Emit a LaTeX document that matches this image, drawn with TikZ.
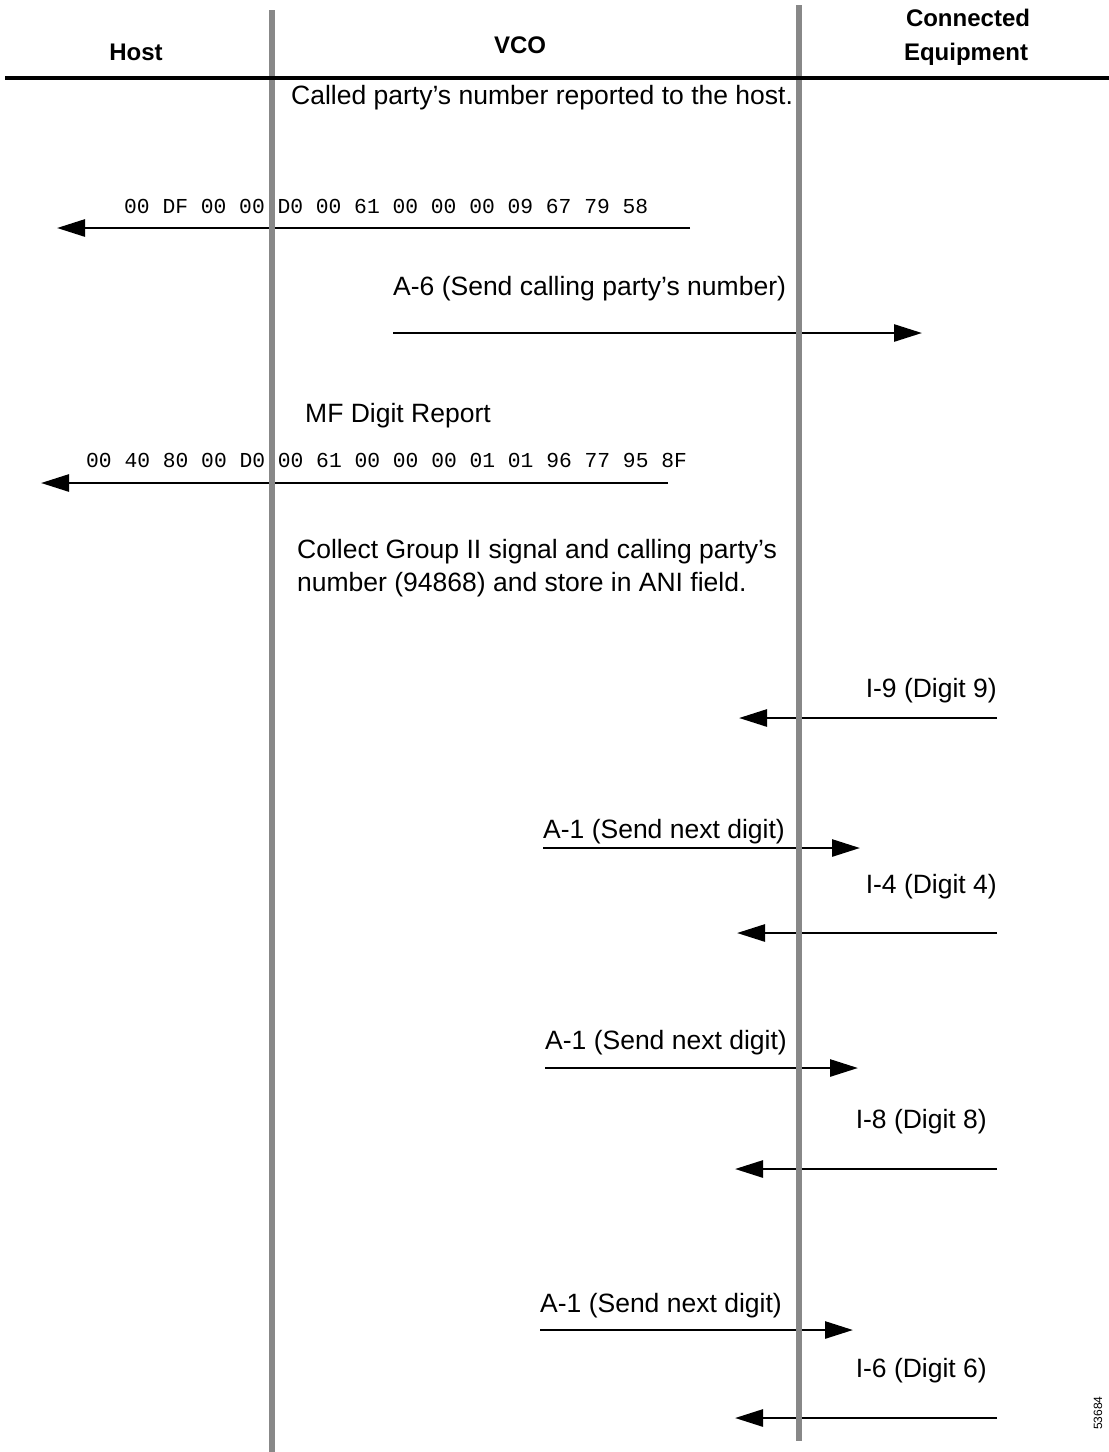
\documentclass[tikz,border=0pt]{standalone}
\usepackage{fontspec}
\setmainfont{Liberation Sans}
\setmonofont{Liberation Mono}
\usetikzlibrary{arrows.meta}
\definecolor{lifegray}{RGB}{136,136,136}
\begin{document}
\begin{tikzpicture}[x=1pt,y=-1pt,
  lifeline/.style={draw=lifegray,line width=6pt},
  msg/.style={draw=black,line width=2.7pt,-{Triangle[length=28pt,width=17pt]}},
  hdr/.style={font=\fontsize{24}{28}\selectfont\bfseries,inner sep=0pt},
  txt/.style={font=\fontsize{26.5}{33}\selectfont,inner sep=0pt},
  hex/.style={font=\fontsize{21.3}{24}\selectfont\ttfamily,inner sep=0pt}]
\useasboundingbox (0,0) rectangle (1109,1452);

% headers
\node[hdr,anchor=base] (host) at (136,60) {Host};
\node[hdr,anchor=base] (vco) at (520,53) {VCO};
\node[hdr,anchor=base] (conn) at (968,26) {Connected};
\node[hdr,anchor=base] (equip) at (966,60) {Equipment};

% texts
\node[txt,anchor=base west] (called) at (291,104) {Called party’s number reported to the host.};
\node[hex,anchor=base west] (hexa) at (124,213) {00 DF 00 00 D0 00 61 00 00 00 09 67 79 58};
\node[txt,anchor=base west] (a6) at (393,295) {A-6 (Send calling party’s number)};
\node[txt,anchor=base west] (mf) at (305,422) {MF Digit Report};
\node[hex,anchor=base west] (hexb) at (86,467) {00 40 80 00 D0 00 61 00 00 00 01 01 96 77 95 8F};
\node[txt,anchor=base west] (collect1) at (297,558) {Collect Group II signal and calling party’s};
\node[txt,anchor=base west] (collect2) at (297,591) {number (94868) and store in ANI field.};
\node[txt,anchor=base east] (i9) at (997,697) {I-9 (Digit 9)};
\node[txt,anchor=base west] (a1a) at (543,838) {A-1 (Send next digit)};
\node[txt,anchor=base east] (i4) at (997,893) {I-4 (Digit 4)};
\node[txt,anchor=base west] (a1b) at (545,1049) {A-1 (Send next digit)};
\node[txt,anchor=base east] (i8) at (987,1128) {I-8 (Digit 8)};
\node[txt,anchor=base west] (a1c) at (540,1312) {A-1 (Send next digit)};
\node[txt,anchor=base east] (i6) at (987,1377) {I-6 (Digit 6)};
\node[font=\fontsize{12}{14}\selectfont,rotate=90,inner sep=0pt] (fig) at (1098,1413) {53684};

% arrow endpoints
\coordinate (m1s) at (690,228);  \coordinate (m1e) at (57,228);
\coordinate (m2s) at (393,333);  \coordinate (m2e) at (922,333);
\coordinate (m3s) at (668,483);  \coordinate (m3e) at (41,483);
\coordinate (m4s) at (997,718);  \coordinate (m4e) at (739,718);
\coordinate (m5s) at (543,848);  \coordinate (m5e) at (860,848);
\coordinate (m6s) at (997,933);  \coordinate (m6e) at (737,933);
\coordinate (m7s) at (545,1068); \coordinate (m7e) at (858,1068);
\coordinate (m8s) at (997,1169); \coordinate (m8e) at (735,1169);
\coordinate (m9s) at (540,1330); \coordinate (m9e) at (853,1330);
\coordinate (m10s) at (997,1418); \coordinate (m10e) at (735,1418);

\foreach \i in {1,...,10} \draw[msg] (m\i s) -- (m\i e);

% lifelines
\coordinate (hostTop) at (272,10);   \coordinate (hostBot) at (272,1452);
\coordinate (eqTop) at (799,5);      \coordinate (eqBot) at (799,1441);
\draw[lifeline] (hostTop) -- (hostBot);
\draw[lifeline] (eqTop) -- (eqBot);

% header rule
\coordinate (ruleL) at (5,78); \coordinate (ruleR) at (1109,78);
\draw[line width=3.5pt] (ruleL) -- (ruleR);
\end{tikzpicture}
\end{document}
